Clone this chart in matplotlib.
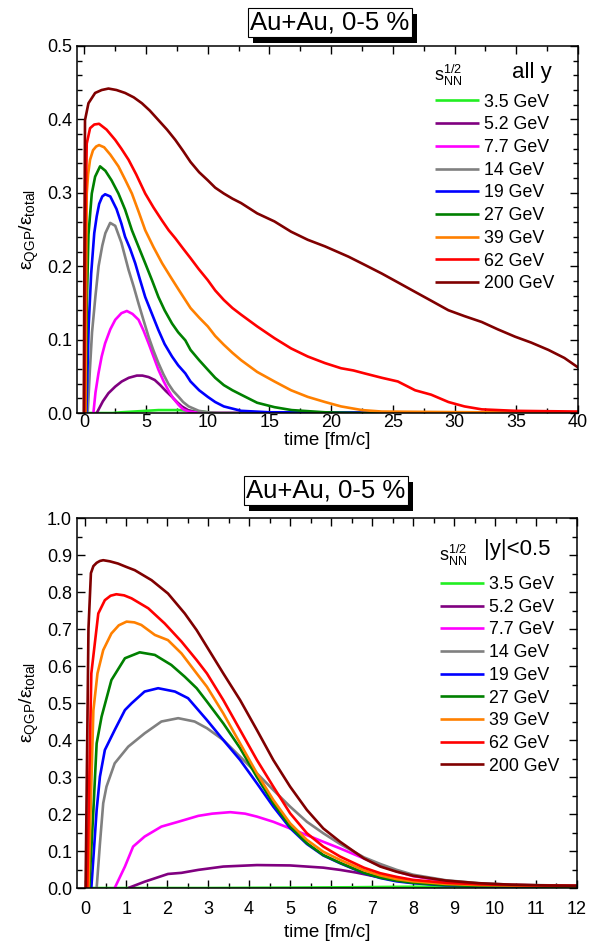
import numpy as np
import matplotlib
matplotlib.use("Agg")
import matplotlib.pyplot as plt
from matplotlib.ticker import MultipleLocator
from matplotlib.patches import Rectangle
import matplotlib.transforms as mtransforms

plt.rcParams['font.family'] = ['Liberation Sans', 'DejaVu Sans']
plt.rcParams['mathtext.fontset'] = 'custom'
plt.rcParams['mathtext.rm'] = 'Liberation Sans'
plt.rcParams['mathtext.it'] = 'Liberation Sans'
plt.rcParams['mathtext.default'] = 'regular'

energies = ["3.5 GeV", "5.2 GeV", "7.7 GeV", "14 GeV", "19 GeV",
            "27 GeV", "39 GeV", "62 GeV", "200 GeV"]
colors = ["#22ee22", "#800080", "#ff00ff", "#808080", "#0000ff",
          "#008000", "#ff8000", "#ff0000", "#800000"]

# ---- top panel: all y, time 0..40 fm/c ----
t_all = {}
v_all = {}
t_all["3.5 GeV"] = [0, 2.3, 3, 4, 5, 6, 7, 7.6, 8.5, 9.5, 10.5, 15, 40]
v_all["3.5 GeV"] = [0, 0, 0.001, 0.002, 0.003, 0.004, 0.004, 0.004, 0.003, 0.002, 0, 0, 0]
t_all["5.2 GeV"] = [1.0, 1.5, 1.95, 2.5, 3.03, 3.6, 4.25, 4.7, 5.2, 5.7, 6.15, 6.6, 7.1, 7.5, 7.9, 8.4, 9.0, 10, 40]
v_all["5.2 GeV"] = [0, 0.016, 0.027, 0.036, 0.043, 0.048, 0.051, 0.051, 0.049, 0.045, 0.038, 0.030, 0.022, 0.015, 0.009, 0.004, 0.001, 0, 0]
t_all["7.7 GeV"] = [0.73, 0.9, 1.14, 1.4, 1.68, 2.1, 2.5, 3.0, 3.44, 3.9, 4.39, 4.8, 5.2, 5.6, 6.0, 6.4, 6.8, 7.2, 7.64, 8.0, 8.45, 9.5, 40]
v_all["7.7 GeV"] = [0, 0.028, 0.054, 0.077, 0.095, 0.114, 0.127, 0.136, 0.139, 0.135, 0.127, 0.112, 0.095, 0.077, 0.059, 0.044, 0.031, 0.02, 0.011, 0.005, 0.002, 0, 0]
t_all["14 GeV"] = [0.27, 0.45, 0.62, 0.9, 1.15, 1.45, 1.7, 2.09, 2.5, 3.0, 3.58, 4.0, 4.39, 4.8, 5.2, 5.6, 6.0, 6.4, 6.8, 7.2, 7.64, 8.0, 8.45, 9.27, 10, 11, 40]
v_all["14 GeV"] = [0, 0.06, 0.11, 0.16, 0.2, 0.228, 0.245, 0.259, 0.255, 0.232, 0.195, 0.172, 0.149, 0.126, 0.104, 0.085, 0.068, 0.053, 0.04, 0.03, 0.022, 0.015, 0.009, 0.003, 0.001, 0, 0]
t_all["19 GeV"] = [0.16, 0.35, 0.55, 0.8, 1.0, 1.2, 1.45, 1.68, 2.1, 2.6, 3.0, 3.3, 3.7, 4.12, 4.5, 4.93, 5.5, 6.0, 6.5, 7.1, 7.6, 8.18, 8.6, 9.3, 10, 10.6, 11.3, 12.7, 15, 40]
v_all["19 GeV"] = [0, 0.12, 0.19, 0.245, 0.268, 0.285, 0.295, 0.298, 0.295, 0.278, 0.258, 0.24, 0.224, 0.204, 0.182, 0.158, 0.134, 0.113, 0.094, 0.077, 0.065, 0.054, 0.043, 0.031, 0.022, 0.015, 0.009, 0.003, 0.001, 0]
t_all["27 GeV"] = [0.1, 0.2, 0.33, 0.6, 0.87, 1.27, 1.7, 2.2, 2.76, 3.3, 3.85, 4.4, 4.93, 5.5, 6.0, 6.5, 7.1, 7.6, 8.18, 8.6, 9.3, 10, 10.6, 11.3, 12.0, 12.7, 14.0, 15.4, 16.8, 19.5, 22, 40]
v_all["27 GeV"] = [0, 0.15, 0.243, 0.299, 0.322, 0.336, 0.33, 0.317, 0.299, 0.277, 0.249, 0.226, 0.204, 0.18, 0.158, 0.14, 0.122, 0.11, 0.099, 0.086, 0.072, 0.059, 0.048, 0.038, 0.031, 0.025, 0.014, 0.008, 0.004, 0.001, 0, 0]
t_all["39 GeV"] = [0.08, 0.19, 0.3, 0.46, 0.7, 0.95, 1.19, 1.6, 2.1, 2.76, 3.3, 3.85, 4.4, 4.93, 5.6, 6.3, 7.0, 7.64, 8.6, 9.3, 10, 10.6, 11.3, 12.0, 12.7, 14.0, 15.4, 16.75, 18.1, 19.5, 20.8, 22.5, 24.1, 40]
v_all["39 GeV"] = [0, 0.299, 0.325, 0.345, 0.358, 0.363, 0.365, 0.362, 0.352, 0.336, 0.318, 0.299, 0.274, 0.249, 0.226, 0.204, 0.185, 0.168, 0.143, 0.13, 0.118, 0.105, 0.093, 0.082, 0.072, 0.056, 0.043, 0.031, 0.022, 0.015, 0.009, 0.004, 0.002, 0]
t_all["62 GeV"] = [0.0, 0.08, 0.19, 0.46, 0.8, 1.19, 1.8, 2.5, 3.0, 3.58, 4.2, 4.93, 5.6, 6.3, 6.83, 7.37, 8.0, 8.6, 9.27, 10, 10.6, 11.3, 12.0, 12.7, 14.0, 15.4, 16.75, 18.1, 19.5, 20.8, 21.8, 22.7, 24.1, 25.4, 26.8, 28.1, 29.5, 30.8, 32.2, 34.9, 40]
v_all["62 GeV"] = [0, 0.25, 0.367, 0.388, 0.393, 0.394, 0.386, 0.372, 0.36, 0.345, 0.325, 0.299, 0.28, 0.262, 0.249, 0.238, 0.224, 0.211, 0.196, 0.181, 0.167, 0.154, 0.143, 0.134, 0.118, 0.102, 0.088, 0.077, 0.068, 0.061, 0.058, 0.054, 0.048, 0.043, 0.031, 0.025, 0.015, 0.009, 0.005, 0.003, 0.002]
t_all["200 GeV"] = [-0.05, 0.05, 0.33, 0.87, 1.4, 1.95, 2.6, 3.3, 4.0, 4.66, 5.3, 6.0, 6.7, 7.37, 8.0, 8.6, 9.3, 10, 10.6, 11.3, 12.0, 12.7, 14.0, 15.4, 16.75, 18.1, 19.5, 21.4, 22.7, 24.1, 25.4, 26.8, 28.1, 29.5, 30.8, 32.2, 33.5, 34.9, 36.2, 37.6, 38.9, 40.1]
v_all["200 GeV"] = [0, 0.399, 0.422, 0.436, 0.44, 0.442, 0.44, 0.436, 0.43, 0.422, 0.412, 0.399, 0.386, 0.372, 0.357, 0.342, 0.328, 0.317, 0.307, 0.299, 0.292, 0.286, 0.272, 0.261, 0.247, 0.236, 0.227, 0.213, 0.202, 0.19, 0.178, 0.165, 0.153, 0.14, 0.132, 0.124, 0.114, 0.104, 0.096, 0.086, 0.075, 0.061]

# ---- bottom panel: |y|<0.5, time 0..12 fm/c ----
t_mid = {}
v_mid = {}
t_mid["3.5 GeV"] = [0, 3, 5, 6.5, 7.5, 9, 10.5, 12]
v_mid["3.5 GeV"] = [0, 0, 0.001, 0.002, 0.003, 0.004, 0.004, 0.004]
t_mid["5.2 GeV"] = [1.05, 1.45, 2.02, 2.35, 2.76, 3.37, 4.19, 5.0, 5.81, 6.22, 6.6, 7.0, 7.6, 8.0, 8.8, 9.6, 10.4, 12]
v_mid["5.2 GeV"] = [0, 0.017, 0.038, 0.041, 0.049, 0.058, 0.062, 0.061, 0.055, 0.049, 0.042, 0.033, 0.023, 0.017, 0.011, 0.008, 0.006, 0.005]
t_mid["7.7 GeV"] = [0.72, 0.97, 1.17, 1.45, 1.86, 2.27, 2.76, 3.1, 3.54, 3.9, 4.19, 4.59, 5.0, 5.41, 5.81, 6.22, 6.8, 7.2, 7.6, 8.0, 8.8, 9.6, 10.4, 12]
v_mid["7.7 GeV"] = [0, 0.058, 0.112, 0.139, 0.166, 0.179, 0.195, 0.201, 0.205, 0.201, 0.193, 0.179, 0.161, 0.143, 0.125, 0.107, 0.08, 0.06, 0.045, 0.032, 0.018, 0.011, 0.008, 0.006]
t_mid["14 GeV"] = [0.28, 0.36, 0.44, 0.52, 0.72, 1.05, 1.45, 1.86, 2.27, 2.67, 2.97, 3.37, 3.78, 4.19, 4.59, 5.0, 5.41, 5.81, 6.22, 6.8, 7.2, 7.6, 8.0, 8.8, 9.6, 10.4, 12]
v_mid["14 GeV"] = [0, 0.12, 0.229, 0.274, 0.337, 0.382, 0.418, 0.45, 0.459, 0.45, 0.432, 0.4, 0.355, 0.31, 0.265, 0.22, 0.179, 0.148, 0.119, 0.083, 0.065, 0.049, 0.036, 0.021, 0.013, 0.009, 0.006]
t_mid["19 GeV"] = [0.15, 0.28, 0.36, 0.48, 0.72, 0.97, 1.13, 1.45, 1.78, 2.19, 2.51, 2.97, 3.37, 3.78, 4.19, 4.59, 5.0, 5.41, 5.81, 6.22, 6.8, 7.2, 7.6, 8.0, 8.8, 9.6, 12]
v_mid["19 GeV"] = [0, 0.211, 0.301, 0.373, 0.427, 0.481, 0.499, 0.531, 0.54, 0.531, 0.513, 0.454, 0.4, 0.346, 0.283, 0.22, 0.162, 0.119, 0.088, 0.067, 0.04, 0.027, 0.018, 0.013, 0.007, 0.004, 0.002]
t_mid["27 GeV"] = [0.1, 0.2, 0.28, 0.4, 0.64, 0.97, 1.33, 1.7, 2.1, 2.43, 2.72, 2.97, 3.37, 3.78, 4.19, 4.59, 5.0, 5.41, 5.81, 6.22, 6.8, 7.2, 7.6, 8.0, 8.8, 9.6, 12]
v_mid["27 GeV"] = [0, 0.21, 0.391, 0.463, 0.562, 0.621, 0.637, 0.63, 0.603, 0.571, 0.54, 0.504, 0.445, 0.378, 0.3, 0.229, 0.166, 0.121, 0.089, 0.068, 0.041, 0.028, 0.02, 0.014, 0.008, 0.005, 0.003]
t_mid["39 GeV"] = [0.08, 0.2, 0.3, 0.44, 0.64, 0.82, 1.01, 1.2, 1.37, 1.7, 2.02, 2.35, 2.72, 2.97, 3.37, 3.78, 4.19, 4.59, 5.0, 5.41, 5.81, 6.22, 6.8, 7.2, 7.6, 8.0, 8.8, 9.6, 12]
v_mid["39 GeV"] = [0, 0.48, 0.58, 0.643, 0.688, 0.71, 0.72, 0.718, 0.711, 0.684, 0.67, 0.634, 0.58, 0.544, 0.472, 0.391, 0.31, 0.238, 0.175, 0.13, 0.098, 0.076, 0.048, 0.034, 0.024, 0.018, 0.011, 0.008, 0.005]
t_mid["62 GeV"] = [0.05, 0.15, 0.32, 0.48, 0.62, 0.76, 0.95, 1.13, 1.54, 1.94, 2.35, 2.72, 2.97, 3.37, 3.78, 4.19, 4.59, 5.0, 5.41, 5.81, 6.22, 6.8, 7.2, 7.6, 8.0, 8.8, 9.6, 10.4, 12]
v_mid["62 GeV"] = [0, 0.58, 0.742, 0.778, 0.79, 0.794, 0.791, 0.783, 0.756, 0.715, 0.666, 0.616, 0.58, 0.508, 0.427, 0.346, 0.274, 0.202, 0.148, 0.112, 0.085, 0.055, 0.04, 0.03, 0.022, 0.014, 0.01, 0.008, 0.006]
t_mid["200 GeV"] = [0.01, 0.08, 0.14, 0.2, 0.28, 0.36, 0.44, 0.6, 0.8, 1.0, 1.21, 1.62, 2.02, 2.43, 2.72, 2.97, 3.37, 3.78, 4.19, 4.59, 5.0, 5.41, 5.81, 6.22, 6.8, 7.2, 7.6, 8.0, 8.8, 9.6, 10.4, 11.2, 12]
v_mid["200 GeV"] = [0, 0.7, 0.851, 0.87, 0.879, 0.884, 0.886, 0.883, 0.877, 0.868, 0.859, 0.832, 0.796, 0.742, 0.697, 0.652, 0.58, 0.508, 0.427, 0.346, 0.274, 0.211, 0.161, 0.125, 0.08, 0.058, 0.044, 0.033, 0.02, 0.013, 0.009, 0.007, 0.006]

fig = plt.figure(figsize=(5.89, 9.46), dpi=100)
ax1 = fig.add_axes([0.1307, 0.5634, 0.8506, 0.388])
ax2 = fig.add_axes([0.1307, 0.0613, 0.8489, 0.3911])


def style_axes(ax, xmaj, xmin, ymaj, ymin):
    ax.xaxis.set_major_locator(MultipleLocator(xmaj))
    ax.xaxis.set_minor_locator(MultipleLocator(xmin))
    ax.yaxis.set_major_locator(MultipleLocator(ymaj))
    ax.yaxis.set_minor_locator(MultipleLocator(ymin))
    ax.tick_params(which='both', direction='in', top=True, right=True,
                   labelsize=13, width=1.0, colors='black')
    ax.tick_params(which='major', length=6)
    ax.tick_params(which='minor', length=3.5)
    for s in ax.spines.values():
        s.set_linewidth(1.1)
    ax.set_ylabel('ε$_{QGP}$/ε$_{total}$', fontsize=14, labelpad=4)


boxes = []


def title_box(x, y):
    t = fig.text(x, y, 'Au+Au, 0-5 %', fontsize=18.5, ha='center', va='center',
                 zorder=5,
                 bbox=dict(boxstyle='square,pad=0.1', fc='white', ec='black', lw=0.8))
    boxes.append(t)


for name, c in zip(energies, colors):
    ax1.plot(t_all[name], v_all[name], color=c, lw=1.9, label=name, solid_capstyle='butt')
for name, c in zip(energies, colors):
    ax2.plot(t_mid[name], v_mid[name], color=c, lw=1.9, label=name, solid_capstyle='butt')

ax1.set_xlim(-0.6, 40)
ax1.set_ylim(0, 0.5)
style_axes(ax1, 5, 2.5, 0.1, 0.02)
ax1.set_xlabel('time [fm/c]', fontsize=13.5, labelpad=0.5)
ax1.tick_params(axis='x', pad=1)

ax2.set_xlim(-0.2, 12)
ax2.set_ylim(0, 1.0)
style_axes(ax2, 1, 0.5, 0.1, 0.05)
ax2.set_xlabel('time [fm/c]', fontsize=13.5, labelpad=5)
ax2.tick_params(axis='x', pad=9)

legend_setup = [(ax1, 'all y', 0.714, 0.87, 0.713, 0.921, 0.868, 0.929),
                (ax2, '|y|<0.5', 0.726, 0.843, 0.724, 0.9, 0.814, 0.914)]
for ax, head, lx, ly, sx, sy, hx, hy in legend_setup:
    ax.legend(loc='upper left', bbox_to_anchor=(lx, ly), frameon=False,
              fontsize=12.8, handlelength=2.5, handletextpad=0.25,
              labelspacing=0.32, borderpad=0, borderaxespad=0)
    ax.text(sx, sy, '$s_{NN}^{1/2}$', transform=ax.transAxes,
            fontsize=13, ha='left', va='center')
    ax.text(hx, hy, head, transform=ax.transAxes, fontsize=16,
            ha='left', va='center')

title_box(0.560, 0.976)
title_box(0.553, 0.4815)

# drop shadow behind the title boxes
fig.canvas.draw()
for t in boxes:
    bb = t.get_bbox_patch().get_window_extent()
    fig.add_artist(Rectangle((bb.x0 + 5, bb.y0 - 6), bb.width, bb.height,
                             transform=mtransforms.IdentityTransform(),
                             fc='black', ec='none', zorder=4))

fig.savefig('out.png', dpi=100)
